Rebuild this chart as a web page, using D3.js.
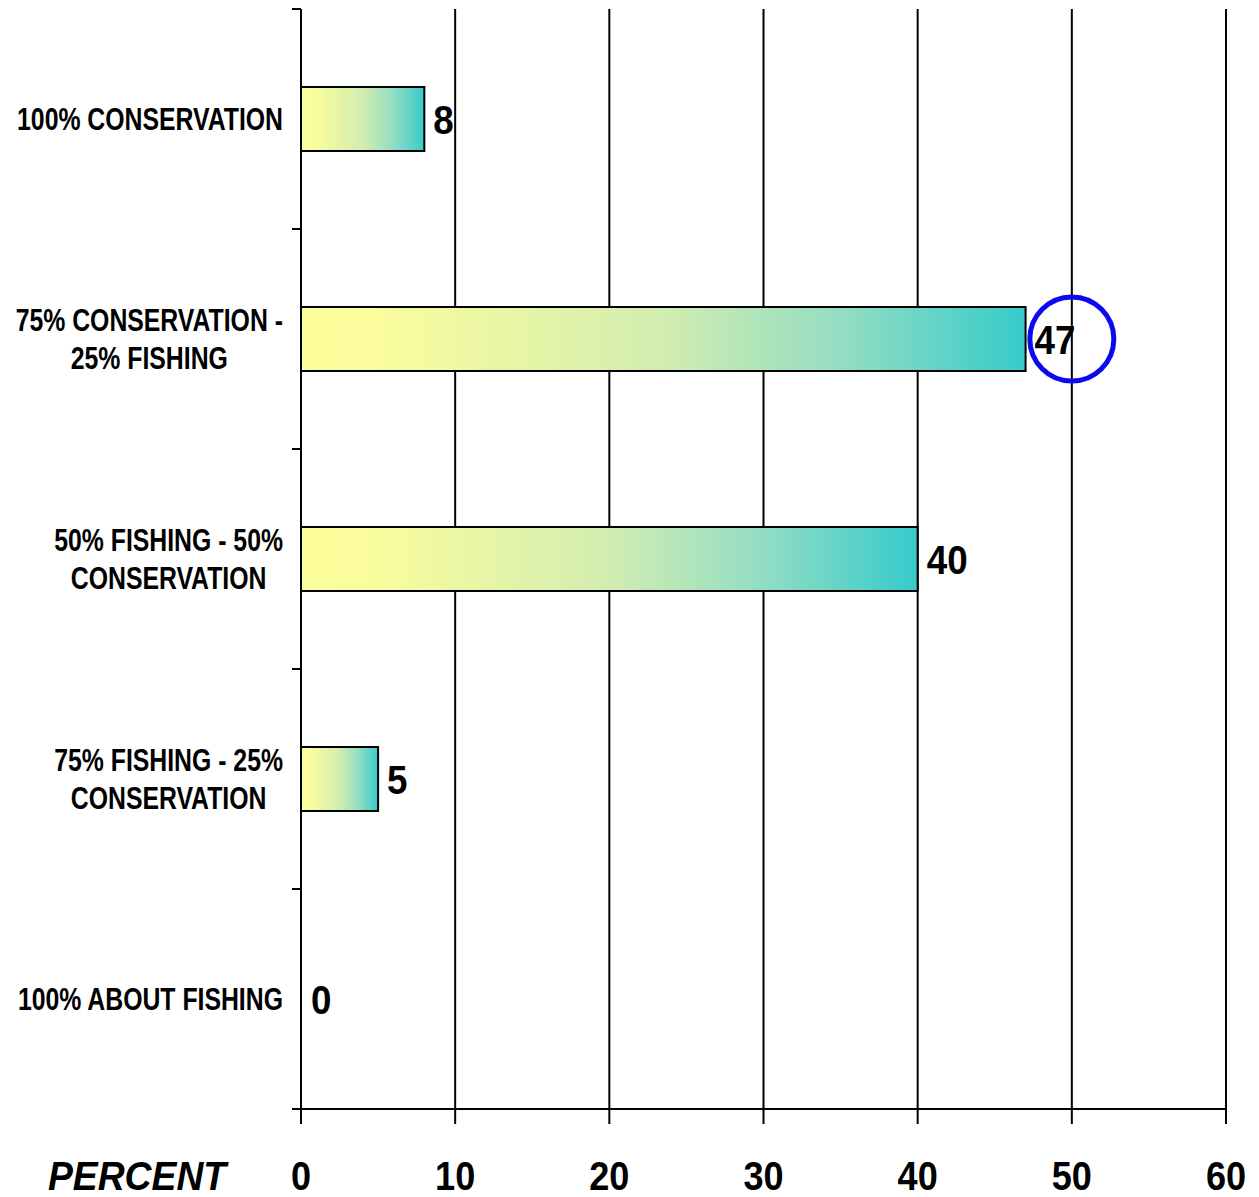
<!DOCTYPE html>
<html>
<head>
<meta charset="utf-8">
<script src="https://cdn.jsdelivr.net/npm/d3@7"></script>
<style>
  html, body { margin: 0; padding: 0; background: #ffffff; }
  svg { display: block; }
  text { font-family: "Liberation Sans", Arial, sans-serif; font-weight: bold; fill: #000; }
</style>
</head>
<body>
<svg id="chart" width="1259" height="1197"></svg>
<script>
// Survey answers: share of respondents by preferred content mix
const categories = [
  ["100% CONSERVATION"],
  ["75% CONSERVATION -", "25% FISHING"],
  ["50% FISHING - 50%", "CONSERVATION"],
  ["75% FISHING - 25%", "CONSERVATION"],
  ["100% ABOUT FISHING"]
];
const values = [8, 47, 40, 5, 0];
const xTicks = [0, 10, 20, 30, 40, 50, 60];
const axisTitle = "PERCENT";
const highlighted = 1; // index of the circled answer
const highlightAt = 50; // circle sits on this gridline

const svg = d3.select("#chart");
const margin = { top: 9, left: 301, right: 33, bottom: 88 };
const W = 1259, H = 1197;
const x = d3.scaleLinear().domain([0, 60]).range([margin.left, W - margin.right]);
const y = d3.scaleBand().domain(d3.range(categories.length)).range([margin.top, H - margin.bottom]);
const bottom = H - margin.bottom;

// condensed lettering: squeeze a text horizontally around an anchor point
function condensed(sel, px, py, sx, anchor) {
  sel.attr("x", 0).attr("y", 0).attr("text-anchor", anchor)
    .attr("transform", `translate(${px},${py}) scale(${sx},1)`);
  return sel;
}

// bar fill: pale yellow to teal, per bar
const defs = svg.append("defs");
const grad = defs.append("linearGradient").attr("id", "barFill")
  .attr("x1", "0%").attr("x2", "100%").attr("y1", "0%").attr("y2", "0%");
[["0%", "#fdfe9c"], ["10%", "#fbfd9c"], ["50%", "#d2edb0"], ["75%", "#92ddc3"], ["100%", "#36cbcb"]]
  .forEach(([o, c]) => grad.append("stop").attr("offset", o).attr("stop-color", c));

// vertical gridlines with tick stubs below the axis
svg.append("g").selectAll("line").data(xTicks.slice(1)).join("line")
  .attr("x1", d => x(d)).attr("x2", d => x(d))
  .attr("y1", margin.top).attr("y2", bottom + 15)
  .attr("stroke", "#000").attr("stroke-width", 2);

// value axis baseline
svg.append("line").attr("x1", x(0) - 9).attr("x2", x(60))
  .attr("y1", bottom).attr("y2", bottom).attr("stroke", "#000").attr("stroke-width", 2);

// category axis with ticks at band edges
svg.append("line").attr("x1", x(0)).attr("x2", x(0))
  .attr("y1", margin.top).attr("y2", bottom + 15).attr("stroke", "#000").attr("stroke-width", 2);
const edges = d3.range(categories.length + 1).map(i => margin.top + i * y.step());
svg.append("g").selectAll("line").data(edges).join("line")
  .attr("x1", x(0) - 9).attr("x2", x(0)).attr("y1", d => d).attr("y2", d => d)
  .attr("stroke", "#000").attr("stroke-width", 2);

// bars
const barH = 64;
svg.append("g").selectAll("rect").data(values.map((v, i) => ({ v, i })).filter(d => d.v > 0)).join("rect")
  .attr("x", x(0)).attr("y", d => y(d.i) + y.bandwidth() / 2 - barH / 2)
  .attr("width", d => x(d.v) - x(0)).attr("height", barH)
  .attr("fill", "url(#barFill)").attr("stroke", "#000").attr("stroke-width", 2);

// value labels
svg.append("g").selectAll("text").data(values).join("text")
  .attr("dy", "0.36em").style("font-size", "40px")
  .text(d => d)
  .each(function (d, i) {
    condensed(d3.select(this), x(d) + (d > 0 ? 9 : 10), y(i) + y.bandwidth() / 2 + 1, 0.92, "start");
  });

// circled highlight
svg.append("circle")
  .attr("cx", x(highlightAt)).attr("cy", y(highlighted) + y.bandwidth() / 2).attr("r", 42)
  .attr("fill", "none").attr("stroke", "#0a0af0").attr("stroke-width", 5);

// category labels: block right-aligned, lines centered within it
const labelRight = 283, lineGap = 38, labelSx = 0.8;
categories.forEach((lines, i) => {
  const g = svg.append("g");
  const cy = y(i) + y.bandwidth() / 2;
  const texts = lines.map(s => g.append("text").attr("dy", "0.36em").style("font-size", "31px").text(s));
  const maxW = d3.max(texts, t => t.node().getComputedTextLength()) * labelSx;
  texts.forEach((t, j) => condensed(t, labelRight - maxW / 2,
    cy + (j - (lines.length - 1) / 2) * lineGap, labelSx, "middle"));
});

// tick labels under the axis
svg.append("g").selectAll("text").data(xTicks).join("text")
  .attr("dy", "0.36em").style("font-size", "41px")
  .text(d => d)
  .each(function (d) { condensed(d3.select(this), x(d), 1175, 0.88, "middle"); });

condensed(svg.append("text").attr("dy", "0.36em")
  .style("font-size", "41px").style("font-style", "italic").text(axisTitle), 137, 1175, 0.91, "middle");
</script>
</body>
</html>
